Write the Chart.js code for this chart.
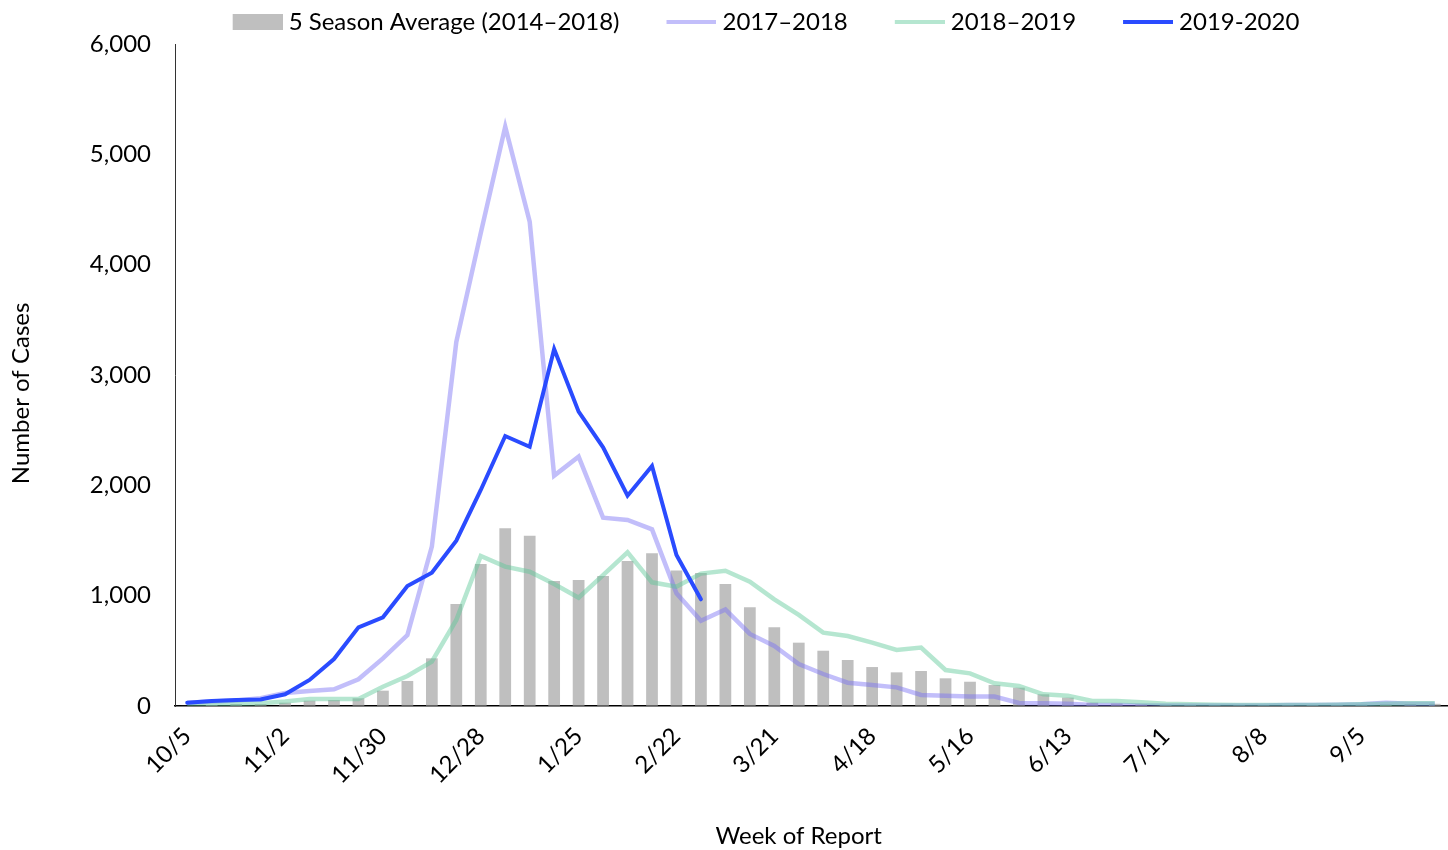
<!DOCTYPE html>
<html>
<head>
<meta charset="utf-8">
<script src="https://cdn.jsdelivr.net/npm/chart.js@4/dist/chart.umd.min.js"></script>
<style>
  html, body { margin: 0; padding: 0; background: #ffffff; }
  #wrap { width: 1448px; height: 850px; }
</style>
</head>
<body>
<div id="wrap"><canvas id="c" width="1448" height="850"></canvas></div>
<script>
const weeks = ['10/5','10/12','10/19','10/26','11/2','11/9','11/16','11/23','11/30','12/7','12/14','12/21','12/28',
  '1/4','1/11','1/18','1/25','2/1','2/8','2/15','2/22','2/29','3/7','3/14','3/21','3/28','4/4','4/11','4/18','4/25',
  '5/2','5/9','5/16','5/23','5/30','6/6','6/13','6/20','6/27','7/4','7/11','7/18','7/25','8/1','8/8','8/15','8/22','8/29',
  '9/5','9/12','9/19','9/26'];

const avg5 = [5, 10, 18, 18, 30, 48, 54, 70, 139, 227, 432, 924, 1287, 1610, 1544, 1133, 1142, 1178, 1314, 1384, 1227, 1205,
  1106, 894, 713, 574, 501, 417, 353, 305, 317, 251, 220, 190, 166, 106, 76, 30, 24, 15, 12, 10, 8, 8, 8, 8, 10, 10, 12, 15, 18, 20];

const s2017 = [30, 40, 50, 70, 118, 136, 151, 242, 432, 643, 1444, 3300, 4287, 5250, 4390, 2088, 2260, 1707, 1686, 1601, 1021, 772,
  876, 653, 544, 381, 290, 211, 190, 169, 100, 94, 85, 85, 27, 25, 20, 10, 8, 5, 5, 5, 5, 5, 5, 8, 10, 12, 15, 30, 20, 20];

const s2018 = [10, 15, 20, 25, 40, 63, 63, 63, 175, 272, 402, 780, 1360, 1263, 1217, 1106, 982, 1187, 1393, 1121, 1081, 1200,
  1226, 1127, 967, 825, 665, 634, 574, 508, 529, 326, 296, 206, 181, 106, 94, 45, 45, 33, 20, 15, 12, 10, 10, 10, 10, 12, 15, 20, 25, 25];

const s2019 = [30, 45, 55, 60, 106, 236, 426, 713, 804, 1088, 1208, 1498, 1958, 2447, 2350, 3236, 2668, 2345, 1906, 2175, 1369, 967];

const seriesNames = ['5 Season Average (2014\u20132018)', '2017\u20132018', '2018\u20132019', '2019-2020'];
const yTicks = [0, 1000, 2000, 3000, 4000, 5000, 6000];
const xTitle = 'Week of Report';
const yTitle = 'Number of Cases';

const FONT = 'Lato, "Open Sans", sans-serif';
const FS = 24;

const cBar = '#bfbfbf';
const c2017 = 'rgba(120,110,245,0.45)';
const c2018 = 'rgba(90,200,150,0.45)';
const c2019 = '#2a4bff';

// legend icons: transparent left margin provides the gap between legend items
const ICON_MARGIN = 43, ICON_W = 50, BOX_W = 81;
function swatch(h, color) {
  const cv = document.createElement('canvas');
  cv.width = ICON_MARGIN + ICON_W; cv.height = h;
  const g = cv.getContext('2d');
  g.fillStyle = color;
  g.fillRect(ICON_MARGIN, 0, ICON_W, h);
  return cv;
}
const legendIcons = [swatch(16, cBar), swatch(4, 'rgb(194,190,250)'), swatch(4, 'rgb(181,230,208)'), swatch(4, c2019)];

const NB = '\u00a0';
const LEFT_PAD = 48;

new Chart(document.getElementById('c'), {
  data: {
    labels: weeks,
    datasets: [
      { type: 'bar', label: seriesNames[0], data: avg5, backgroundColor: cBar, borderWidth: 0,
        barPercentage: 0.48, categoryPercentage: 1.0, order: 4 },
      { type: 'line', label: seriesNames[1], data: s2017, borderColor: c2017, backgroundColor: c2017,
        borderWidth: 4.5, pointRadius: 0, tension: 0, fill: false, order: 3 },
      { type: 'line', label: seriesNames[2], data: s2018, borderColor: c2018, backgroundColor: c2018,
        borderWidth: 4.5, pointRadius: 0, tension: 0, fill: false, order: 2 },
      { type: 'line', label: seriesNames[3], data: s2019, borderColor: c2019, backgroundColor: c2019,
        borderWidth: 4, pointRadius: 0, tension: 0, fill: false, order: 1, borderCapStyle: 'round' }
    ]
  },
  options: {
    responsive: false,
    animation: false,
    layout: { padding: { left: LEFT_PAD, right: 1, top: 0, bottom: 0 } },
    plugins: {
      tooltip: { enabled: false },
      legend: {
        position: 'top',
        labels: {
          font: { family: FONT, size: FS },
          color: '#000',
          usePointStyle: true,
          pointStyleWidth: BOX_W,
          boxHeight: 16,
          padding: 10,
          sort: (a, b) => a.datasetIndex - b.datasetIndex,
          generateLabels(chart) {
            return chart.data.datasets.map((ds, i) => ({
              text: ds.label, datasetIndex: i, pointStyle: legendIcons[i],
              fillStyle: 'transparent', strokeStyle: 'transparent', lineWidth: 0, fontColor: '#000', hidden: false
            }));
          }
        }
      }
    },
    scales: {
      x: {
        grid: { display: true, color: 'rgba(0,0,0,0)', drawTicks: false },
        border: { display: true, color: '#000', width: 1.5 },
        ticks: {
          autoSkip: false, minRotation: 45, maxRotation: 45, padding: 16,
          font: { family: FONT, size: FS }, color: '#000',
          callback: function(v, i) { return i % 4 === 0 ? weeks[i] : ''; }
        },
        title: { display: true, text: xTitle + NB.repeat(4), font: { family: FONT, size: FS }, color: '#000',
          padding: { top: 0, bottom: -1 } },
        afterFit(s) { s.height = 144; s.paddingRight = 0; s.paddingLeft = 0; }
      },
      y: {
        min: 0, max: 6000,
        grid: { display: true, color: 'rgba(0,0,0,0)', drawTicks: false },
        border: { display: true, color: '#333', width: 1 },
        afterBuildTicks(s) { s.ticks = yTicks.map(v => ({ value: v })); },
        ticks: { padding: 24, font: { family: FONT, size: FS }, color: '#000',
          callback: v => v.toLocaleString('en-US') },
        title: { display: true, text: yTitle + NB.repeat(6), font: { family: FONT, size: FS }, color: '#000',
          padding: { top: 7 - LEFT_PAD, bottom: 0 } },
        afterFit(s) { s.width = 175 - LEFT_PAD; }
      }
    }
  }
});
</script>
</body>
</html>
